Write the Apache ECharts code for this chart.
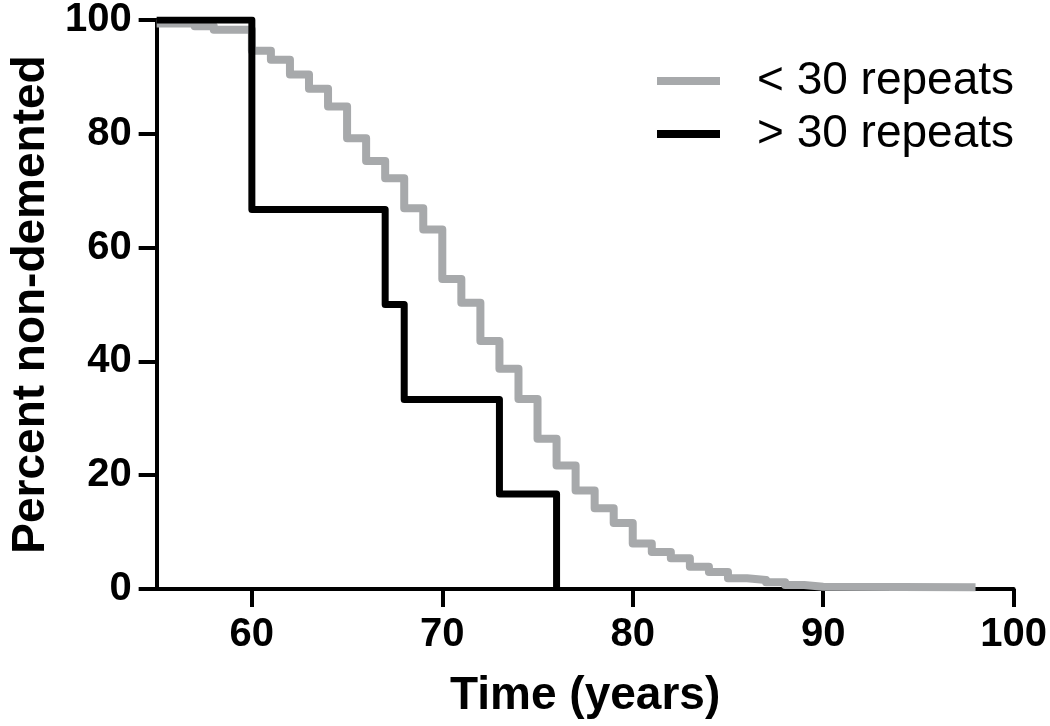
<!DOCTYPE html>
<html>
<head>
<meta charset="utf-8">
<script src="https://cdn.jsdelivr.net/npm/echarts@6/dist/echarts.min.js"></script>
<style>
  html, body { margin: 0; padding: 0; background: #ffffff; }
  #chart { width: 1050px; height: 726px; }
</style>
</head>
<body>
<div id="chart"></div>
<script>
// ---- Data ----
const seriesNames = ['< 30 repeats', '> 30 repeats'];

// < 30 repeats: [time (years), percent non-demented] at each step
const shortTimes  = [55, 57, 58, 60, 61, 62, 63, 64, 65, 66, 67, 68, 69, 70, 71, 72, 73, 74, 75, 76, 77, 78, 79, 80, 81, 82, 83, 84, 85, 86, 87, 88, 89, 90, 98];
const shortValues = [99.4, 98.9, 98.3, 94.6, 93.0, 90.4, 87.9, 84.8, 79.2, 75.2, 72.2, 66.9, 63.2, 54.5, 50.3, 43.6, 38.7, 33.4, 26.4, 21.7, 17.3, 14.2, 11.6, 8.0, 6.5, 5.4, 3.9, 3.0, 1.9, 1.6, 1.2, 0.7, 0.4, 0.3, 0.3];

// > 30 repeats
const longTimes  = [55, 60, 67, 68, 73, 76];
const longValues = [100, 66.7, 50, 33.3, 16.7, 0];

const xTicks = [60, 70, 80, 90, 100];
const yTicks = [0, 20, 40, 60, 80, 100];

const xTitle = 'Time (years)';
const yTitle = 'Percent non-demented';

// ---- Build ----
const zip = (a, b) => a.map((v, i) => [v, b[i]]);
const GRAY = '#a7a9ab';
const FONT = '"Liberation Sans", Arial, sans-serif';

const chart = echarts.init(document.getElementById('chart'), null, { renderer: 'canvas' });

chart.setOption({
  animation: false,
  backgroundColor: '#ffffff',
  grid: { left: 153, right: 34, top: 18, bottom: 137 },
  legend: {
    orient: 'vertical',
    left: 657,
    top: 58,
    padding: 0,
    itemWidth: 63,
    itemHeight: 8,
    itemGap: 7,
    icon: 'rect',
    textStyle: {
      fontFamily: FONT,
      fontSize: 46,
      color: '#000',
      lineHeight: 46,
      padding: [0, 0, 0, 32]
    },
    data: [
      { name: seriesNames[0], itemStyle: { color: GRAY } },
      { name: seriesNames[1], itemStyle: { color: '#000' } }
    ]
  },
  xAxis: {
    type: 'value',
    min: 55,
    max: 100,
    interval: 5,
    name: xTitle,
    nameLocation: 'middle',
    nameGap: 84,
    nameTextStyle: { fontFamily: FONT, fontSize: 46, fontWeight: 'bold', color: '#000' },
    splitLine: { show: false },
    axisLine: { show: true, onZero: false, lineStyle: { color: '#000', width: 4 } },
    axisTick: { show: true, length: 18, lineStyle: { color: '#000', width: 4 }, customValues: xTicks },
    axisLabel: { fontFamily: FONT, fontSize: 40, fontWeight: 'bold', color: '#000', margin: 26, customValues: xTicks }
  },
  yAxis: {
    type: 'value',
    min: 0,
    max: 100,
    interval: 20,
    name: yTitle,
    nameLocation: 'middle',
    nameGap: 102,
    nameTextStyle: { fontFamily: FONT, fontSize: 46, fontWeight: 'bold', color: '#000' },
    splitLine: { show: false },
    axisLine: { show: true, onZero: false, lineStyle: { color: '#000', width: 4 } },
    axisTick: { show: true, length: 18, lineStyle: { color: '#000', width: 4 }, customValues: yTicks },
    axisLabel: { fontFamily: FONT, fontSize: 40, fontWeight: 'bold', color: '#000', margin: 25, customValues: yTicks }
  },
  series: [
    {
      name: seriesNames[0],
      type: 'line',
      step: 'end',
      data: zip(shortTimes, shortValues),
      showSymbol: false,
      symbol: 'none',
      color: GRAY,
      lineStyle: { color: GRAY, width: 8, join: 'round' },
      z: 3
    },
    {
      name: seriesNames[1],
      type: 'line',
      step: 'end',
      data: zip(longTimes, longValues),
      showSymbol: false,
      symbol: 'none',
      color: '#000',
      lineStyle: { color: '#000', width: 7, join: 'round' },
      z: 4
    }
  ]
});
</script>
</body>
</html>
